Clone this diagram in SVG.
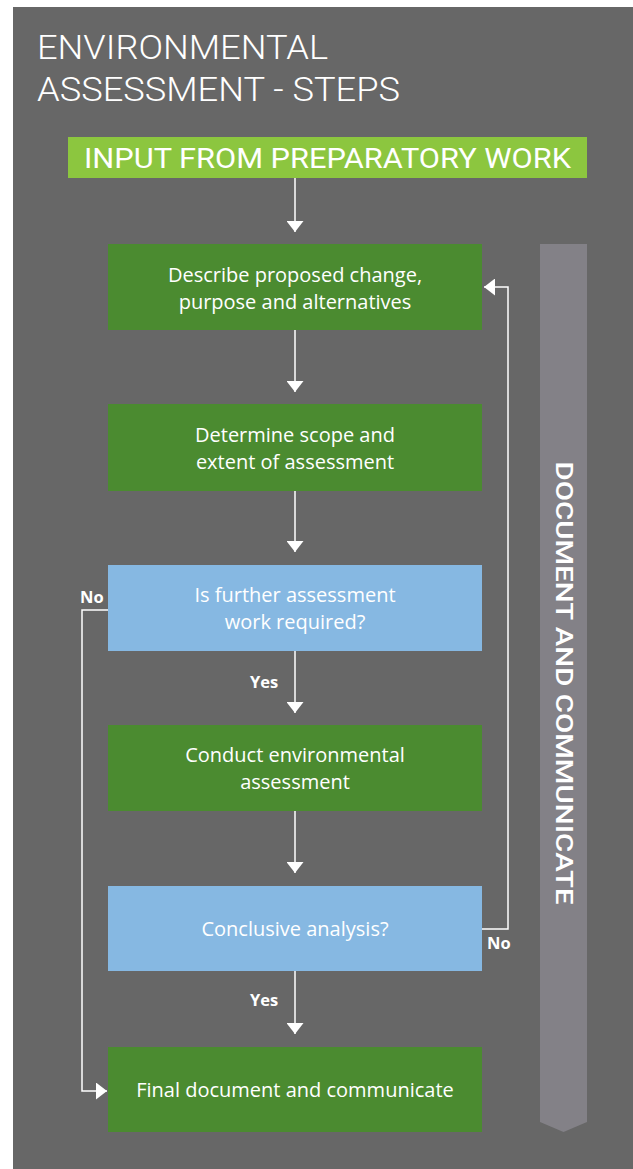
<svg xmlns="http://www.w3.org/2000/svg" width="633" height="1169" viewBox="0 0 633 1169">
<defs>
<style>
.title{font-family:Roboto,"Liberation Sans",sans-serif;font-weight:300;font-size:34px;fill:#ffffff}
.inp{font-family:Roboto,"Liberation Sans",sans-serif;font-weight:400;font-size:28px;fill:#ffffff}
.box{font-family:"Open Sans","Liberation Sans",sans-serif;font-size:20px;fill:#ffffff;text-anchor:middle}
.lbl{font-family:"Open Sans","Liberation Sans",sans-serif;font-weight:bold;font-size:16.5px;fill:#ffffff}
.side{font-family:Roboto,"Liberation Sans",sans-serif;font-weight:500;font-size:23px;fill:#ffffff;text-anchor:middle}
.g{fill:#4b8b30}
.b{fill:#86b8e2}
.ln{stroke:#ffffff;stroke-width:1.5;fill:none}
</style>
<marker id="ah" markerWidth="11" markerHeight="17" refX="11" refY="8.5" orient="auto" markerUnits="userSpaceOnUse" viewBox="0 0 11 17">
<path d="M0,0 L11,8.5 L0,17 Z" fill="#ffffff"/>
</marker>
</defs>
<rect x="13" y="7" width="620" height="1162" fill="#676767"/>
<g id="title">
<text class="title" x="37" y="59" textLength="291" lengthAdjust="spacingAndGlyphs">ENVIRONMENTAL</text>
<text class="title" x="37" y="101" textLength="363" lengthAdjust="spacingAndGlyphs">ASSESSMENT - STEPS</text>
</g>
<g id="side-bar">
<path d="M540,244 H587 V1122 L563.5,1132 L540,1122 Z" fill="#838187"/>
<text class="side" transform="translate(563.5,683) rotate(90)" y="8" textLength="443" lengthAdjust="spacingAndGlyphs">DOCUMENT AND COMMUNICATE</text>
</g>
<g id="input">
<rect x="68" y="137" width="519" height="41" fill="#8cc63f"/>
<text class="inp" x="84" y="168" textLength="487" lengthAdjust="spacingAndGlyphs">INPUT FROM PREPARATORY WORK</text>
</g>
<g id="describe">
<rect class="g" x="108" y="244" width="374" height="86"/>
<text class="box" x="295" y="282">Describe proposed change,</text>
<text class="box" x="295" y="309">purpose and alternatives</text>
</g>
<g id="scope">
<rect class="g" x="108" y="404" width="374" height="87"/>
<text class="box" x="295" y="442">Determine scope and</text>
<text class="box" x="295" y="469">extent of assessment</text>
</g>
<g id="further">
<rect class="b" x="108" y="565" width="374" height="86"/>
<text class="box" x="295" y="602">Is further assessment</text>
<text class="box" x="295" y="629">work required?</text>
</g>
<g id="conduct">
<rect class="g" x="108" y="725" width="374" height="86"/>
<text class="box" x="295" y="762">Conduct environmental</text>
<text class="box" x="295" y="789">assessment</text>
</g>
<g id="conclusive">
<rect class="b" x="108" y="886" width="374" height="85"/>
<text class="box" x="295" y="936">Conclusive analysis?</text>
</g>
<g id="final">
<rect class="g" x="108" y="1047" width="374" height="85"/>
<text class="box" x="295" y="1097">Final document and communicate</text>
</g>
<g id="connectors">
<path class="ln" d="M295,178 V232" marker-end="url(#ah)"/>
<path class="ln" d="M295,330 V392" marker-end="url(#ah)"/>
<path class="ln" d="M295,491 V552" marker-end="url(#ah)"/>
<path class="ln" d="M295,651 V713" marker-end="url(#ah)"/>
<path class="ln" d="M295,811 V873" marker-end="url(#ah)"/>
<path class="ln" d="M295,971 V1034" marker-end="url(#ah)"/>
<path class="ln" d="M482,929 H508 V287 H484" marker-end="url(#ah)"/>
<path class="ln" d="M108,610 H82 V1091 H107" marker-end="url(#ah)"/>
<text class="lbl" x="80" y="603">No</text>
<text class="lbl" x="487" y="949">No</text>
<text class="lbl" x="250" y="688">Yes</text>
<text class="lbl" x="250" y="1006">Yes</text>
</g>
</svg>
